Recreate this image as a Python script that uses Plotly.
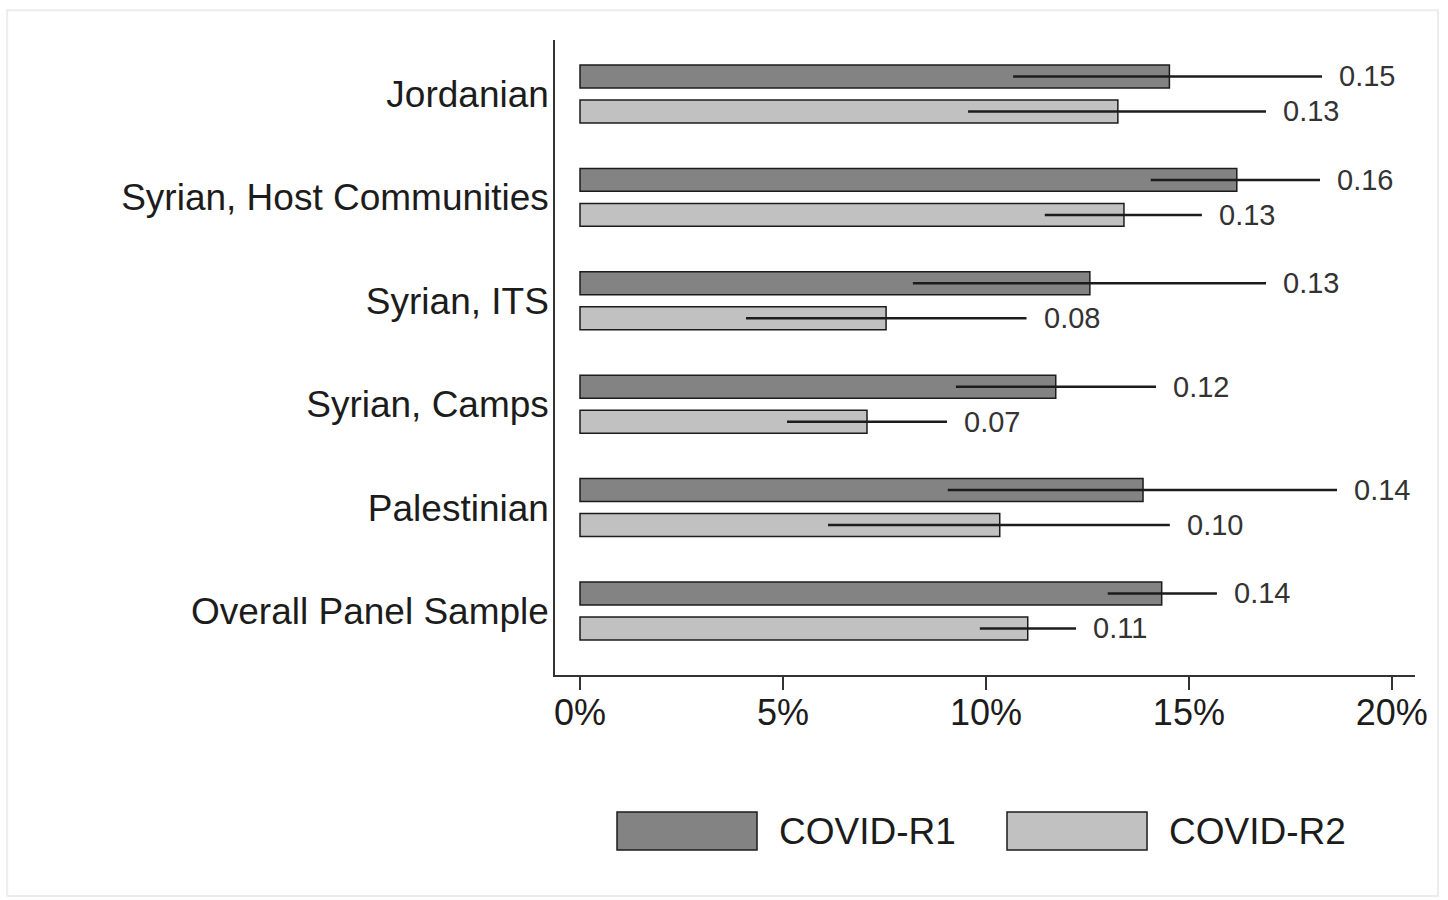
import plotly.graph_objects as go

# Groups, top to bottom
groups = [
    "Jordanian",
    "Syrian, Host Communities",
    "Syrian, ITS",
    "Syrian, Camps",
    "Palestinian",
    "Overall Panel Sample",
]

# COVID-R1 estimates with confidence bounds (shares)
r1_value = [0.1452, 0.1618, 0.1256, 0.1172, 0.1387, 0.1433]
r1_low = [0.1067, 0.1406, 0.0820, 0.0926, 0.0906, 0.1300]
r1_high = [0.1828, 0.1823, 0.1690, 0.1419, 0.1865, 0.1569]

# COVID-R2 estimates with confidence bounds (shares)
r2_value = [0.1325, 0.1340, 0.0754, 0.0707, 0.1034, 0.1103]
r2_low = [0.0956, 0.1145, 0.0409, 0.0510, 0.0611, 0.0985]
r2_high = [0.1690, 0.1532, 0.1100, 0.0904, 0.1453, 0.1222]

x_ticks = [0, 0.05, 0.10, 0.15, 0.20]

series = [
    ("COVID-R1", r1_value, r1_low, r1_high, "#838383"),
    ("COVID-R2", r2_value, r2_low, r2_high, "#c1c1c1"),
]

FONT = "Liberation Sans, Arial, Helvetica, sans-serif"
INK = "#1c1c1c"

fig = go.Figure()
for name, vals, lows, highs, color in series:
    fig.add_trace(go.Bar(
        name=name,
        y=groups,
        x=vals,
        orientation="h",
        marker=dict(color=color, line=dict(color=INK, width=1.5)),
        error_x=dict(
            type="data",
            symmetric=False,
            array=[h - v for v, h in zip(vals, highs)],
            arrayminus=[v - l for v, l in zip(vals, lows)],
            color=INK,
            thickness=2.5,
            width=0,
        ),
        showlegend=False,
    ))

# Value labels just past the upper end of each interval
annotations = []
for k, (name, vals, lows, highs, color) in enumerate(series):
    shift = 17.5 if k == 0 else -17.5
    for g, v, h in zip(groups, vals, highs):
        annotations.append(dict(
            x=h, y=g, xref="x", yref="y",
            text=f"{v:.2f}",
            showarrow=False,
            xanchor="left", yanchor="middle",
            xshift=15, yshift=shift,
            font=dict(family=FONT, size=29, color="#333333"),
        ))

# Legend drawn as large swatches with labels beneath the axis
shapes = []
legend_items = [
    ("COVID-R1", "#838383", 0.0721, 0.2349, 0.2581),
    ("COVID-R2", "#c1c1c1", 0.5256, 0.6884, 0.7116),
]
for label, color, x0, x1, tx in legend_items:
    shapes.append(dict(
        type="rect", xref="paper", yref="paper",
        x0=x0, x1=x1, y0=-0.2756, y1=-0.2157,
        fillcolor=color, line=dict(color=INK, width=1.5),
    ))
    annotations.append(dict(
        x=tx, y=-0.2457, xref="paper", yref="paper",
        text=label, showarrow=False,
        xanchor="left", yanchor="middle",
        font=dict(family=FONT, size=37, color=INK),
    ))

# Faint outer frame around the graph region
shapes.append(dict(
    type="rect", xref="paper", yref="paper",
    x0=-0.637, x1=1.0267, y0=-0.348, y1=1.047,
    line=dict(color="#ececec", width=2), fillcolor="rgba(0,0,0,0)",
    layer="below",
))

fig.update_layout(
    width=1448,
    height=900,
    margin=dict(l=555, r=33, t=40, b=225),
    paper_bgcolor="white",
    plot_bgcolor="white",
    barmode="group",
    bargap=0.323,
    bargroupgap=0.344,
    font=dict(family=FONT, color=INK),
    annotations=annotations,
    shapes=shapes,
)

fig.update_xaxes(
    range=[-0.00616, 0.2057],
    tickvals=x_ticks,
    tickformat=".0%",
    ticks="outside",
    ticklen=13,
    tickwidth=1.5,
    tickcolor="#333333",
    ticklabelstandoff=-8,
    showline=True,
    linecolor="#333333",
    linewidth=1.5,
    showgrid=False,
    zeroline=False,
    tickfont=dict(family=FONT, size=36, color=INK),
)

fig.update_yaxes(
    categoryorder="array",
    categoryarray=groups,
    range=[5.619, -0.522],
    ticks="",
    ticklabelstandoff=-3,
    showline=True,
    linecolor="#333333",
    linewidth=1.5,
    showgrid=False,
    zeroline=False,
    tickfont=dict(family=FONT, size=37, color=INK),
)

fig.write_html("out.html")
